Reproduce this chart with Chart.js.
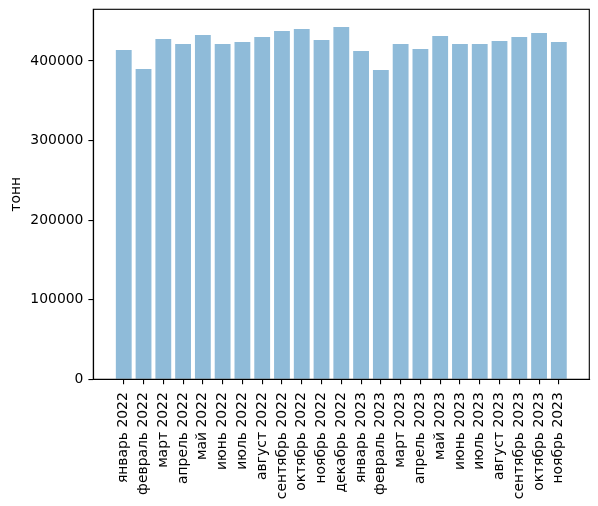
<!DOCTYPE html>
<html>
<head>
<meta charset="utf-8">
<script src="https://cdn.jsdelivr.net/npm/chart.js@4"></script>
<style>
html,body{margin:0;padding:0;background:#fff;}
#wrap{width:598px;height:506px;position:relative;}
</style>
</head>
<body>
<div id="wrap"><canvas id="c"></canvas></div>
<script>
const categories = ["январь 2022","февраль 2022","март 2022","апрель 2022","май 2022","июнь 2022","июль 2022","август 2022","сентябрь 2022","октябрь 2022","ноябрь 2022","декабрь 2022","январь 2023","февраль 2023","март 2023","апрель 2023","май 2023","июнь 2023","июль 2023","август 2023","сентябрь 2023","октябрь 2023","ноябрь 2023"];
const tonnes = [413800,389900,427600,421300,432600,421300,423800,430100,437700,440200,426400,442700,412500,388700,421300,415000,431400,421300,421300,425100,430100,435200,423800];
const yTicks = [0,100000,200000,300000,400000];
const yTitle = "тонн";

Chart.defaults.font.family = "'DejaVu Sans', sans-serif";
Chart.defaults.font.size = 13.9;
Chart.defaults.color = '#000';

const frame = {
  id: 'frame',
  afterDraw(chart) {
    const a = chart.chartArea, ctx = chart.ctx;
    ctx.save();
    ctx.strokeStyle = '#000';
    ctx.lineWidth = 1.1;
    ctx.strokeRect(a.left, a.top, a.right - a.left, a.bottom - a.top);
    ctx.restore();
  }
};

const n = categories.length;
const margin = 0.05 * (n - 1 + 0.8);

new Chart(document.getElementById('c'), {
  type: 'bar',
  data: {
    datasets: [{
      data: tonnes.map((v, i) => ({x: i, y: v})),
      backgroundColor: 'rgb(143,187,217)',
      borderWidth: 0,
      categoryPercentage: 1,
      barPercentage: 0.8
    }]
  },
  options: {
    responsive: true,
    maintainAspectRatio: false,
    animation: false,
    layout: {padding: {top: 9.3, right: 8.7, left: 0, bottom: 0}},
    plugins: {legend: {display: false}, tooltip: {enabled: false}},
    scales: {
      x: {
        type: 'linear',
        offset: false,
        min: -0.4 - margin,
        max: n - 1 + 0.4 + margin,
        afterBuildTicks(scale) { scale.ticks = categories.map((_, i) => ({value: i})); },
        afterFit(scale) { scale.height = 506 - 379.3; scale.paddingLeft = 0; scale.paddingRight = 0; },
        ticks: {
          autoSkip: false,
          minRotation: 90,
          maxRotation: 90,
          padding: 8,
          callback: (v) => categories[v]
        },
        grid: {drawOnChartArea: false, drawTicks: true, tickLength: 4.9, color: '#000', lineWidth: 1.1, offset: false},
        border: {display: true, color: '#000', width: 1.1}
      },
      y: {
        min: 0,
        max: 465000,
        afterBuildTicks(scale) { scale.ticks = yTicks.map(v => ({value: v})); },
        afterFit(scale) { scale.width = 93.3; scale.paddingTop = 0; scale.paddingBottom = 0; },
        ticks: {padding: 5, callback: (v) => String(v)},
        grid: {drawOnChartArea: false, drawTicks: true, tickLength: 4.9, color: '#000', lineWidth: 1.1},
        border: {display: true, color: '#000', width: 1.1},
        title: {display: true, text: yTitle, padding: {top: 8, bottom: 0}, font: {size: 13.9}}
      }
    }
  },
  plugins: [frame]
});
</script>
</body>
</html>
